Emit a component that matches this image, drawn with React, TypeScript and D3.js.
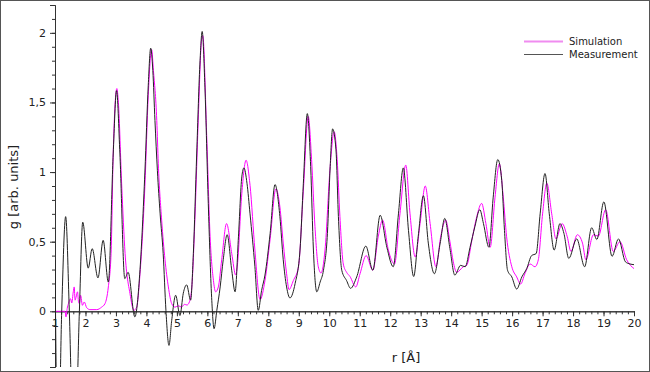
import { FC, useEffect, useRef } from 'react';
import * as d3 from 'd3';

// r [Å] and g values
const measR = [
  1.0, 1.1, 1.22, 1.35, 1.47, 1.63, 1.8, 1.91, 2.09, 2.22, 2.41, 2.58, 2.75, 2.91, 3.02, 3.13, 3.29, 3.4, 3.62,
  3.79, 3.95, 4.06, 4.14, 4.21, 4.28, 4.36, 4.45, 4.55, 4.64, 4.74, 4.83, 4.96, 5.1, 5.21, 5.32, 5.45, 5.54,
  5.65, 5.76, 5.83, 5.92, 6.03, 6.14, 6.22, 6.31, 6.42, 6.52, 6.65, 6.8, 6.91, 7.02, 7.13, 7.2, 7.3, 7.4,
  7.56, 7.67, 7.78, 7.89, 8.06, 8.22, 8.38, 8.49, 8.6, 8.71, 8.88, 9.04, 9.15, 9.28, 9.39, 9.48, 9.59, 9.7,
  9.81, 9.94, 10.03, 10.11, 10.22, 10.3, 10.41, 10.57, 10.7, 10.9, 11.2, 11.43, 11.67, 11.89, 12.1, 12.27,
  12.43, 12.6, 12.77, 12.92, 13.09, 13.25, 13.45, 13.64, 13.79, 13.96, 14.12, 14.31, 14.46, 14.62, 14.78,
  14.94, 15.06, 15.24, 15.38, 15.53, 15.66, 15.75, 15.85, 15.99, 16.15, 16.32, 16.48, 16.64, 16.79, 16.92,
  17.08, 17.22, 17.38, 17.57, 17.7, 17.86, 18.12, 18.38, 18.61, 18.78, 19.01, 19.28, 19.49, 19.72, 19.87, 20.0,
];
const measG = [
  0.37, -1.1, 0, 0.68, 0, -1.2, 0, 0.64, 0.31, 0.45, 0.24, 0.51, 0.21, 1.13, 1.585, 1.13, 0.235, 0.28, -0.04,
  0.3, 1.0, 1.62, 1.89, 1.73, 1.37, 1.01, 0.7, 0.415, 0.007, -0.245, -0.065, 0.115, -0.03, 0.13, 0.19, 0.08, 0.415,
  1.13, 1.8, 2.01, 1.61, 0.775, 0.1, -0.125, 0.007, 0.175, 0.37, 0.55, 0.295, 0.14, 0.535, 0.965, 1.03, 0.92, 0.7,
  0.32, 0.007, 0.15, 0.26, 0.56, 0.91, 0.68, 0.37, 0.175, 0.096, 0.2, 0.44, 0.92, 1.42, 1.04, 0.44, 0.14, 0.21,
  0.295, 0.56, 1.04, 1.31, 1.16, 0.68, 0.295, 0.22, 0.165, 0.247, 0.468, 0.295, 0.69, 0.46, 0.32, 0.7,
  1.03, 0.58, 0.25, 0.54, 0.83, 0.49, 0.27, 0.49, 0.667, 0.45, 0.26, 0.33, 0.32, 0.46, 0.61,
  0.73, 0.63, 0.46, 0.82, 1.09, 0.94, 0.58, 0.295, 0.247, 0.16, 0.247, 0.307, 0.4, 0.415, 0.7,
  0.99, 0.7, 0.44, 0.63, 0.56, 0.38, 0.52, 0.32, 0.6, 0.516, 0.786, 0.395, 0.52, 0.355, 0.34, 0.335,
];

const simR = [
  1.0, 1.33, 1.36, 1.4, 1.44, 1.51, 1.55, 1.6, 1.63, 1.66, 1.69, 1.74, 1.77, 1.8, 1.84, 1.9, 1.96, 2.04, 2.15,
  2.37, 2.53, 2.64, 2.75, 2.84, 2.91, 3.03, 3.08, 3.19, 3.3, 3.46, 3.59, 3.68, 3.79, 3.95, 4.06, 4.17, 4.23,
  4.34, 4.39, 4.5, 4.61, 4.72, 4.83, 4.94, 5.05, 5.15, 5.25, 5.33, 5.41, 5.49, 5.59, 5.7, 5.81, 5.85, 5.98,
  6.09, 6.2, 6.27, 6.36, 6.47, 6.63, 6.8, 6.93, 6.98, 7.13, 7.27, 7.4, 7.56, 7.73, 7.89, 8.06, 8.25, 8.38,
  8.49, 8.6, 8.68, 8.82, 8.99, 9.15, 9.31, 9.42, 9.53, 9.64, 9.73, 9.86, 10.03, 10.16, 10.26, 10.35, 10.46,
  10.57, 10.68, 10.87, 11.01, 11.21, 11.43, 11.61, 11.75, 11.94, 12.14, 12.32, 12.51, 12.65, 12.82, 12.98,
  13.15, 13.31, 13.5, 13.66, 13.82, 13.96, 14.07, 14.18, 14.4, 14.51, 14.68, 14.84, 15.0, 15.14, 15.28, 15.44,
  15.58, 15.71, 15.82, 15.99, 16.15, 16.28, 16.42, 16.59, 16.75, 16.86, 17.0, 17.14, 17.3, 17.44, 17.64,
  17.81, 17.93, 18.14, 18.31, 18.42, 18.67, 18.83, 19.07, 19.32, 19.54, 19.76, 20.0,
];
const simG = [
  0, 0, -0.04, 0.02, 0.055, 0.09, 0.06, 0.14, 0.175, 0.08, 0.1, 0.14, 0.07, 0.055, 0.115, 0.043, 0.067, 0.026, 0.012,
  0.012, 0.03, 0.055, 0.175, 0.415, 1.13, 1.6, 1.5, 0.9, 0.415, 0.128, 0.007, 0.03, 0.27, 0.9, 1.55, 1.88, 1.73,
  1.37, 1.06, 0.655, 0.37, 0.175, 0.055, 0.03, 0.04, 0.03, 0.05, 0.045, 0.067, 0.175, 0.655, 1.37, 1.95, 1.98, 1.25,
  0.535, 0.22, 0.14, 0.175, 0.37, 0.63, 0.415, 0.26, 0.32, 0.845, 1.085, 0.905, 0.44, 0.084, 0.22, 0.52, 0.88, 0.75,
  0.49, 0.27, 0.156, 0.22, 0.32, 0.87, 1.4, 1.09, 0.61, 0.32, 0.275, 0.44, 1.04, 1.29, 1.09, 0.68, 0.34,
  0.28, 0.25, 0.175, 0.27, 0.4, 0.295, 0.54, 0.655, 0.44, 0.34, 0.7, 1.05, 0.7, 0.39, 0.63,
  0.9, 0.63, 0.32, 0.54, 0.655, 0.5, 0.355, 0.28, 0.32, 0.33, 0.51, 0.68, 0.775, 0.63, 0.46, 0.82,
  1.06, 0.82, 0.535, 0.32, 0.247, 0.196, 0.27, 0.34, 0.32, 0.37, 0.7, 0.92, 0.7, 0.52, 0.63,
  0.535, 0.43, 0.55, 0.49, 0.37, 0.55, 0.54, 0.73, 0.43, 0.5, 0.37, 0.307,
];

const xMajor = d3.range(1, 21);
const xMinor = d3.range(1, 20.001, 0.2);
const yMajor = [0, 0.5, 1, 1.5, 2];
const yMinor = d3.range(-0.4, 2.2001, 0.1);

const seriesNames = ['Simulation', 'Measurement'];

const width = 650;
const height = 372;
const FONT = 'DejaVu Sans, sans-serif';

const Chart: FC = () => {
  const svgRef = useRef<SVGSVGElement | null>(null);

  useEffect(() => {
    if (!svgRef.current) return;
    const svg = d3.select(svgRef.current);
    svg.selectAll('*').remove();

    const x = d3.scaleLinear().domain([1, 20]).range([55, 634]);
    const y = d3.scaleLinear().domain([-0.4, 2.2]).range([367, 5]);
    const fmt = (d: any) => String(d).replace('.', ',');

    svg.append('rect')
      .attr('x', 0.5).attr('y', 0.5)
      .attr('width', width - 1).attr('height', height - 1)
      .attr('fill', '#fff').attr('stroke', '#555');

    svg.append('clipPath').attr('id', 'plot')
      .append('rect')
      .attr('x', x(1)).attr('y', y(2.2))
      .attr('width', x(20) - x(1)).attr('height', y(-0.4) - y(2.2));

    // Y axis
    svg.append('g')
      .attr('transform', `translate(${x(1)},0)`)
      .call(d3.axisLeft(y).tickValues(yMinor).tickSize(3).tickSizeOuter(0).tickFormat(() => ''));
    svg.append('g')
      .attr('transform', `translate(${x(1)},0)`)
      .call(d3.axisLeft(y).tickValues(yMajor).tickSize(5).tickPadding(4).tickFormat(fmt));

    // X axis at g = 0
    svg.append('g')
      .attr('transform', `translate(0,${y(0)})`)
      .call(d3.axisBottom(x).tickValues(xMinor).tickSize(3).tickSizeOuter(0).tickFormat(() => ''));
    svg.append('g')
      .attr('transform', `translate(0,${y(0)})`)
      .call(d3.axisBottom(x).tickValues(xMajor).tickSize(5).tickPadding(3).tickSizeOuter(0).tickFormat((d: any) => String(d)));

    svg.selectAll('.domain, .tick line').attr('stroke', '#333');
    svg.selectAll('.tick text')
      .attr('font-family', FONT)
      .attr('font-size', 11)
      .attr('fill', '#222');

    const line = d3.line<[number, number]>()
      .x(d => x(d[0]))
      .y(d => y(d[1]))
      .curve(d3.curveMonotoneX);

    const sim = simR.map((r, i) => [r, simG[i]] as [number, number]);
    const meas = measR.map((r, i) => [r, measG[i]] as [number, number]);

    const plot = svg.append('g').attr('clip-path', 'url(#plot)');
    plot.append('path')
      .datum(sim)
      .attr('fill', 'none')
      .attr('stroke', '#ff00ff')
      .attr('stroke-width', 1)
      .attr('d', line);
    plot.append('path')
      .datum(meas)
      .attr('fill', 'none')
      .attr('stroke', '#222')
      .attr('stroke-width', 1)
      .attr('d', line);

    // axis titles
    svg.append('text')
      .attr('x', 406).attr('y', 362)
      .attr('text-anchor', 'middle')
      .attr('font-family', FONT).attr('font-size', 13).attr('fill', '#222')
      .text('r [Å]');
    svg.append('text')
      .attr('transform', 'translate(18,187) rotate(-90)')
      .attr('text-anchor', 'middle')
      .attr('font-family', FONT).attr('font-size', 13).attr('fill', '#222')
      .text('g [arb. units]');

    // legend
    const legendColors = ['#f08cf0', '#555'];
    const legendWidths = [2, 1];
    seriesNames.forEach((name, i) => {
      const ly = 41.5 + i * 13;
      svg.append('line')
        .attr('x1', 524).attr('x2', 563)
        .attr('y1', ly).attr('y2', ly)
        .attr('stroke', legendColors[i])
        .attr('stroke-width', legendWidths[i]);
      svg.append('text')
        .attr('x', 569).attr('y', ly + 3.5)
        .attr('font-family', FONT).attr('font-size', 10).attr('fill', '#222')
        .text(name);
    });
  }, []);

  return (
    <svg
      ref={svgRef}
      width={width}
      height={height}
      style={{ position: 'absolute', left: 0, top: 0 }}
    />
  );
};

export default function App() {
  return <Chart />;
}
